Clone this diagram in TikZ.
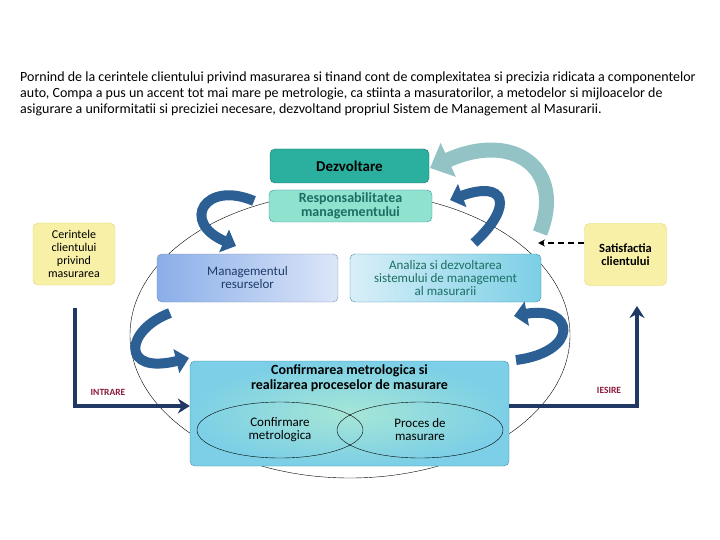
\documentclass[tikz,border=0pt]{standalone}
\usepackage{fontspec}
\setmainfont{Carlito}
\usepackage{xcolor}
\usepackage{tikz}
\usetikzlibrary{arrows.meta,shapes.geometric}

\definecolor{navy}{HTML}{1F3864}
\definecolor{arrowblue}{HTML}{2C5F94}
\definecolor{arrowgrey}{HTML}{94C3C6}
\definecolor{tealdark}{HTML}{2BB0A0}
\definecolor{teallight}{HTML}{8FE2CE}
\definecolor{tealtext}{HTML}{1B6F62}
\definecolor{paleyellow}{HTML}{F7F0A6}
\definecolor{yellowline}{HTML}{E2D673}
\definecolor{bluemid}{HTML}{8AAEE9}
\definecolor{bluepale}{HTML}{DCE6F8}
\definecolor{bluetext}{HTML}{1F3A68}
\definecolor{cyanpale}{HTML}{D8EFF8}
\definecolor{cyanmid}{HTML}{7CCFE6}
\definecolor{cyanline}{HTML}{3A8FA6}
\definecolor{greenglow}{HTML}{A6E6D6}
\definecolor{labelred}{HTML}{8B1A3A}

\begin{document}
\begin{tikzpicture}[x=1pt,y=-1pt,
    box/.style={draw, rounded corners=5pt, align=center, inner sep=2pt},
    clientbox/.style={box, fill=paleyellow, draw=yellowline, minimum width=82pt, minimum height=62pt,
      font=\fontsize{12}{13}\selectfont},
    bendarrow/.style={draw=arrowblue, line width=10pt, -{Triangle[length=13pt,width=24pt]}},
    flowline/.style={draw=navy, line width=3.5pt, -{Stealth[length=12pt,width=15pt,inset=4pt]}},
    flowlabel/.style={text=labelred, font=\fontsize{9.5}{10}\selectfont\bfseries}]

    \useasboundingbox (0,0) rectangle (720,540);

    \node[anchor=north west, align=left, inner sep=0pt, font=\fontsize{14}{16}\selectfont] (intro) at (20,72)
      {Pornind de la cerintele clientului privind masurarea si tinand cont de complexitatea si precizia ridicata a componentelor\\
       auto, Compa a pus un accent tot mai mare pe metrologie, ca stiinta a masuratorilor, a metodelor si mijloacelor de\\
       asigurare a uniformitatii si preciziei necesare, dezvoltand propriul Sistem de Management al Masurarii.};

    \draw[thin] (350,335) ellipse (220 and 143);

    \node[box, fill=tealdark, draw=tealtext, minimum width=159pt, minimum height=34pt,
      font=\fontsize{15}{16}\selectfont\bfseries] (dezv) at (349.5,166) {Dezvoltare};

    \node[box, fill=teallight, draw=cyanline, minimum width=163pt, minimum height=32pt, text=tealtext,
      font=\fontsize{14}{14}\selectfont\bfseries] (resp) at (350.5,206) {Responsabilitatea\\managementului};

    \node[clientbox] (cerin) at (74,254) {Cerintele\\clientului\\privind\\masurarea};
    \node[clientbox, font=\fontsize{12.5}{13}\selectfont\bfseries] (satis) at (625.5,254.5) {Satisfactia\\clientului};

    \node[box, left color=bluemid, right color=bluepale, draw=bluetext!60, minimum width=181pt, minimum height=48pt,
      text=bluetext, font=\fontsize{13}{13}\selectfont] (mgmt) at (247.5,278) {Managementul\\resurselor};

    \node[box, left color=cyanpale, right color=cyanmid, draw=cyanline, minimum width=191pt, minimum height=48pt,
      text=tealtext, font=\fontsize{13}{13}\selectfont] (anal) at (445.5,278)
      {Analiza si dezvoltarea\\sistemului de management\\al masurarii};

    \node[box, inner color=greenglow, outer color=cyanmid, draw=cyanline, minimum width=319pt, minimum height=105pt]
      (conf) at (349.5,413.5) {};
    \node[align=center, font=\fontsize{14}{15}\selectfont\bfseries] (confTitle) at (349.5,378)
      {Confirmarea metrologica si\\realizarea proceselor de masurare};

    \node[draw, ellipse, minimum width=166pt, minimum height=56pt, align=center,
      font=\fontsize{13}{13}\selectfont] (ellConf) at (280,430) {Confirmare\\metrologica};
    \node[draw, ellipse, minimum width=166pt, minimum height=56pt, align=center,
      font=\fontsize{13}{13}\selectfont] (ellProc) at (420,430) {Proces de\\masurare};

    \coordinate (inStart) at (75,308);
    \coordinate (inCorner) at (75,406);
    \coordinate (outCorner) at (637,406);
    \coordinate (outEnd) at (637,306);
    \coordinate (dashEnd) at (538,243);

    \draw[flowline] (inStart) -- (inCorner) -- (inCorner -| conf.west);
    \draw[flowline] (inCorner -| conf.east) -- (outCorner) -- (outEnd);
    \node[flowlabel] (inLabel) at (108,392) {INTRARE};
    \node[flowlabel] (outLabel) at (609,390) {IESIRE};

    \draw[draw=arrowgrey, line width=15pt, -{Triangle[length=20pt,width=36pt]}]
      (540,233) .. controls (565,170) and (515,130) .. (430,168);
    \draw[bendarrow] (254,201) .. controls (205,180) and (180,222) .. (236,246);
    \draw[bendarrow] (474,243) .. controls (515,205) and (505,180) .. (450,200);
    \draw[bendarrow] (170,313) .. controls (125,330) and (120,375) .. (189,358);
    \draw[bendarrow] (516,360) .. controls (580,352) and (575,305) .. (514,316);

    \draw[dash pattern=on 6pt off 4pt, line width=1.5pt, -{Stealth[length=7pt,width=7pt]}]
      (satis.west |- dashEnd) -- (dashEnd);

\end{tikzpicture}
\end{document}
